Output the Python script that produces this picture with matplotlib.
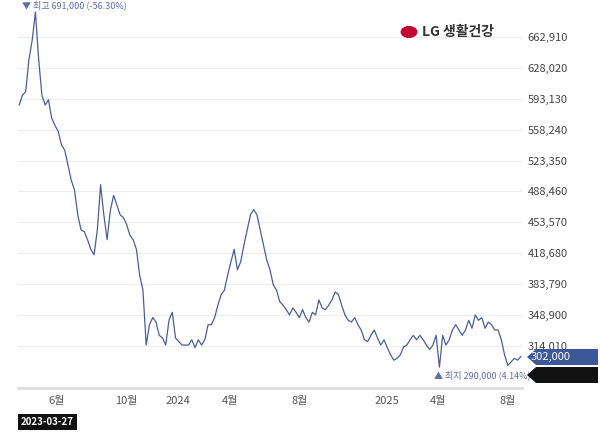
import matplotlib
matplotlib.use("Agg")
import matplotlib.pyplot as plt
import pandas as pd
from matplotlib.patches import Circle, Polygon

plt.rcParams["font.family"] = ["Noto Sans CJK JP", "Noto Sans CJK KR", "DejaVu Sans"]

start_date = "2023-03-27"
end_date = "2025-08-25"
prices_k = [586, 597, 601, 637, 659, 691, 637, 597, 586, 592, 571, 563, 556, 541, 535, 518,
            501, 490, 462, 445, 443, 434, 423, 417, 445, 496, 462, 434, 467, 484, 473, 462,
            459, 451, 439, 434, 423, 394, 377, 315, 338, 346, 341, 326, 323, 315, 343, 352,
            323, 319, 315, 315, 315, 321, 312, 321, 315, 321, 338, 338, 346, 360, 372, 377,
            394, 409, 423, 400, 409, 428, 445, 462, 468, 462, 445, 428, 411, 400, 383, 377,
            364, 360, 355, 349, 357, 352, 346, 355, 346, 341, 352, 349, 366, 357, 355, 360,
            366, 375, 372, 360, 349, 343, 341, 346, 338, 332, 321, 319, 326, 332, 323, 315,
            321, 312, 304, 298, 300, 304, 313, 315, 321, 326, 321, 326, 321, 315, 310, 315,
            326, 290, 326, 315, 321, 332, 338, 332, 326, 332, 343, 334, 349, 343, 346, 334,
            341, 338, 332, 332, 321, 304, 292, 296, 300, 298, 302]
y_ticks = [314010, 348900, 383790, 418680, 453570, 488460, 523350, 558240,
           593130, 628020, 662910]
x_tick_dates = ["2023-06-01", "2023-10-01", "2024-01-01", "2024-04-01", "2024-08-01",
                "2025-01-01", "2025-04-01", "2025-08-01"]
x_tick_labels = ["6월", "10월", "2024", "4월", "8월", "2025", "4월", "8월"]
high_label = "▼ 최고 691,000 (-56.30%)"
low_label = "▲ 최지 290,000 (4.14%)"
current_label = "302,000"
company = "LG 생활건강"

dates = pd.date_range(start_date, end_date, periods=len(prices_k))
prices = [p * 1000 for p in prices_k]

fig = plt.figure(figsize=(6, 4.32), dpi=100)
ax = fig.add_axes([0.03, 0.102, 0.84, 0.898])
line_c = "#4a5f96"
ax.plot(dates, prices, color=line_c, lw=0.9)
ax.set_xlim(pd.Timestamp(start_date) - pd.Timedelta(days=2), pd.Timestamp(end_date) + pd.Timedelta(days=2))
ax.set_ylim(266600, 704600)
ax.yaxis.tick_right()
ax.set_yticks(y_ticks)
ax.set_yticklabels([f"{v:,}" for v in y_ticks], fontsize=8, color="#444")
ax.set_xticks([pd.Timestamp(d) for d in x_tick_dates])
ax.set_xticklabels(x_tick_labels, fontsize=8, color="#555")
ax.tick_params(length=0, pad=4)
ax.tick_params(axis="x", pad=6)
ax.grid(axis="y", color="#eeeeee", lw=0.8)
for s in ["top", "right", "left"]:
    ax.spines[s].set_visible(False)
ax.spines["bottom"].set_color("#dddddd")
ax.spines["bottom"].set_linewidth(2)

ax.text(pd.Timestamp("2023-04-01"), 693000, high_label, fontsize=6.5, color="#5a6fa8", va="bottom", ha="left")
ax.text(pd.Timestamp("2025-03-25"), 281000, low_label, fontsize=6.5, color="#5a6fa8", va="center", ha="left")

def tag(yc, color):
    x0, x1, h = 527 / 600, 598 / 600, 8 / 432
    y = 1 - yc / 432
    fig.patches.append(Polygon([(x0, y), (x0 + 0.015, y + h), (x1, y + h), (x1, y - h), (x0 + 0.015, y - h)],
                               closed=True, transform=fig.transFigure, fc=color, ec="none"))

tag(357, "#3d5899")
tag(375, "#111111")
fig.text(0.885, 1 - 357 / 432, current_label, fontsize=8, color="white", va="center", ha="left")
fig.text(0.035, 1 - 422 / 432, start_date, fontsize=7, color="white", fontweight="bold", va="center",
         ha="left", bbox=dict(boxstyle="square,pad=0.35", fc="#111111", ec="none"))

fig.patches.append(Circle((409 / 600, 1 - 32 / 432), 0.014, transform=fig.transFigure, fc="#c4002e", ec="none"))
fig.text(0.703, 1 - 32 / 432, company, fontsize=10, color="#333", va="center", ha="left", fontweight="bold")

fig.savefig("out.png", dpi=100)
